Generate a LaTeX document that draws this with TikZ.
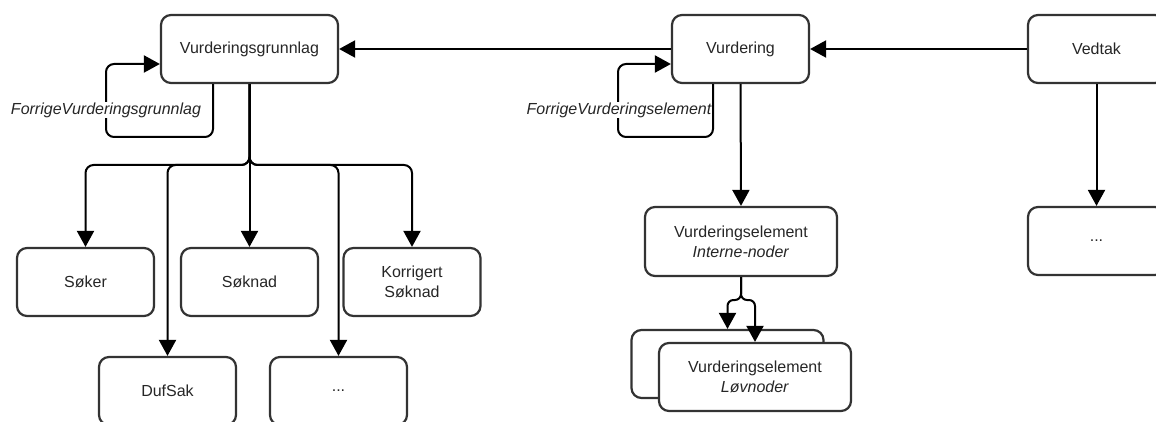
\documentclass[tikz,border=0pt]{standalone}
\usepackage{fontspec}
\setmainfont{Liberation Sans}
\usetikzlibrary{arrows.meta}
\definecolor{edge}{HTML}{333333}
\tikzset{
  box/.style={draw=edge, line width=2.2pt, rounded corners=10pt, fill=white,
    minimum width=137pt, minimum height=68pt, align=center, inner sep=0pt,
    font=\fontsize{16}{20}\selectfont, text=black!85},
  link/.style={draw=black, line width=2pt, rounded corners=8pt,
    -{Triangle[length=16pt,width=17pt]}},
  looplabel/.style={fill=white, inner sep=1pt, text=black!85,
    font=\fontsize{16}{20}\selectfont\itshape}
}
\begin{document}
\begin{tikzpicture}[x=1pt,y=-1pt]
\path[use as bounding box, clip] (0,0) rectangle (1156,422);

% top row
\node[box, minimum width=177pt] (vg) at (249.5,49) {Vurderingsgrunnlag};
\node[box] (vur) at (740.5,49) {Vurdering};
\node[box] (ved) at (1096.5,49) {Vedtak};
\node[box] (vedsub) at (1096.5,241) {...};

% children of Vurderingsgrunnlag
\node[box] (soker) at (85.5,282) {Søker};
\node[box] (soknad) at (249.5,282) {Søknad};
\node[box] (korr) at (412,282) {Korrigert\\Søknad};
\node[box] (dufsak) at (167.5,391) {DufSak};
\node[box] (more) at (338.5,391) {...};

% evaluation elements
\node[box, minimum width=192pt, minimum height=69pt] (intern) at (741,241.5)
  {Vurderingselement\\\textit{Interne-noder}};
\node[box, minimum width=192pt] (leafback) at (727.5,364) {};
\node[box, minimum width=192pt] (leaf) at (755,377)
  {Vurderingselement\\\textit{Løvnoder}};

% horizontal chain
\draw[link] (vur.west) -- (vg.east);
\draw[link] (ved.west) -- (vur.east);
\draw[link] (vur.south) -- (intern.north);
\draw[link] (ved.south) -- (vedsub.north);

% self references
\draw[link] ([xshift=-36.5pt]vg.south) |- (106,137) |- ([yshift=-15pt]vg.west);
\node[looplabel] (lblvg) at (106,110) {ForrigeVurderingsgrunnlag};
\draw[link] ([xshift=-27.5pt]vur.south) |- (618,137) |- ([yshift=-15pt]vur.west);
\node[looplabel] (lblvur) at (619,110) {ForrigeVurderingselement};

% tree below Vurderingsgrunnlag
\coordinate (hub) at (249.5,165);
\draw[link] (vg.south) -- (hub) -| (soker.north);
\draw[link] (vg.south) -- (hub) -| (dufsak.north);
\draw[link] (vg.south) -- (soknad.north);
\draw[link] (vg.south) -- (hub) -| (more.north);
\draw[link] (vg.south) -- (hub) -| (korr.north);

% fork to the leaf elements
\coordinate (fork) at (741,300);
\draw[link, rounded corners=6pt] (intern.south) -- (fork) -| (leafback.north);
\draw[link, rounded corners=6pt] (intern.south) -- (fork) -| (leaf.north);
\end{tikzpicture}
\end{document}
